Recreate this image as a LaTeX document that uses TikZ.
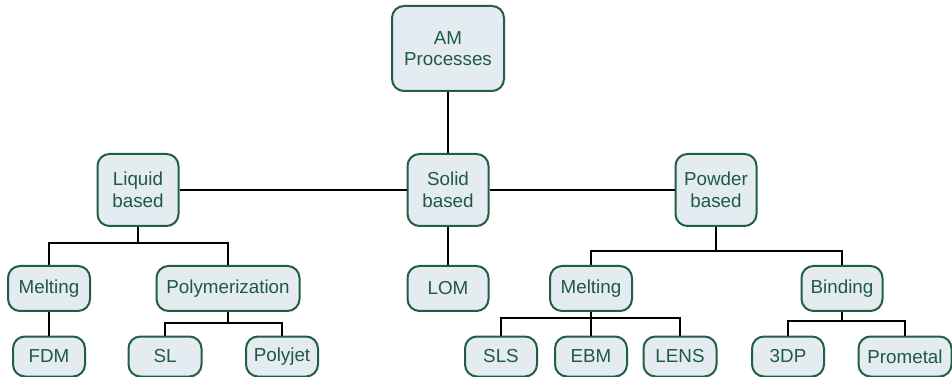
\documentclass[tikz,border=0pt]{standalone}
\usepackage{fontspec}
\setmainfont{Liberation Sans}
\definecolor{boxfill}{HTML}{E5ECF1}
\definecolor{boxline}{HTML}{215E45}
\definecolor{boxtext}{HTML}{1D5A40}

\tikzset{
  box/.style={draw=boxline, fill=boxfill, text=boxtext, line width=1.5pt,
    rounded corners=9pt, align=center, inner sep=0pt,
    font=\fontsize{14.1}{16.3}\selectfont},
  big/.style={box, minimum height=54pt},
  mid/.style={box, minimum height=33.75pt},
  low/.style={box, minimum height=30pt, minimum width=54pt},
  link/.style={line width=1.5pt, black}
}

\begin{document}
\begin{tikzpicture}[x=0.75pt,y=-0.75pt]
\useasboundingbox (0,0) rectangle (952,377);

% top
\node[box, minimum width=84pt, minimum height=63.75pt] (am) at (448,48.5) {AM\\Processes};

% second row
\node[big, minimum width=60.75pt] (liquid) at (138,190) {Liquid\\based};
\node[big, minimum width=60.75pt] (solid) at (448,190) {Solid\\based};
\node[big, minimum width=60.75pt] (powder) at (716,190) {Powder\\based};

% third row
\node[mid, minimum width=61.5pt] (meltl) at (49,288.5) {Melting};
\node[mid, minimum width=107.25pt] (poly) at (228,288.5) {Polymerization};
\node[mid, minimum width=60.75pt] (lom) at (448,288.5) {LOM};
\node[mid, minimum width=61.5pt] (meltp) at (591,288.5) {Melting};
\node[mid, minimum width=60.75pt] (bind) at (842,288.5) {Binding};

% bottom row
\node[low] (fdm) at (49,356.5) {FDM};
\node[low, minimum width=54.75pt] (sl) at (165,356.5) {SL};
\node[low] (polyjet) at (282,356.5) {Polyjet};
\node[low] (sls) at (501,356.5) {SLS};
\node[low] (ebm) at (591,356.5) {EBM};
\node[low, minimum width=54.75pt] (lens) at (680,356.5) {LENS};
\node[low] (tdp) at (788,356.5) {3DP};
\node[low, minimum width=69.75pt] (prometal) at (905,356.5) {Prometal};

% branch points
\coordinate (lbar) at (138,243);
\coordinate (pbar) at (716,251);
\coordinate (polybar) at (228,323);
\coordinate (mbar) at (591,318);
\coordinate (bbar) at (842,321);

% connectors
\draw[link] (am) -- (solid);
\draw[link] (liquid) -- (solid) -- (powder);
\draw[link] (solid) -- (lom);

\draw[link] (liquid) -- (lbar);
\draw[link] (meltl.north) |- (lbar) -| (poly.north);
\draw[link] (meltl) -- (fdm);
\draw[link] (poly) -- (polybar);
\draw[link] (sl.north) |- (polybar) -| (polyjet.north);

\draw[link] (powder) -- (pbar);
\draw[link] (meltp.north) |- (pbar) -| (bind.north);
\draw[link] (meltp) -- (ebm);
\draw[link] (sls.north) |- (mbar) -| (lens.north);
\draw[link] (bind) -- (bbar);
\draw[link] (tdp.north) |- (bbar) -| (prometal.north);
\end{tikzpicture}
\end{document}
